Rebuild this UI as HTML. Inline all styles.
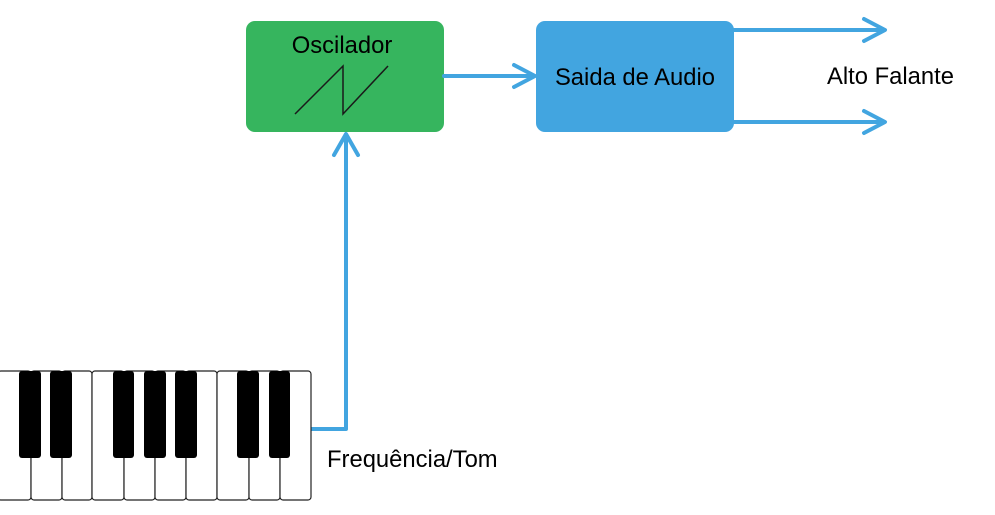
<!DOCTYPE html>
<html><head><meta charset="utf-8"><style>
html,body{margin:0;padding:0;background:#fff;width:995px;height:515px;overflow:hidden}
text{font-family:"Liberation Sans",Arial,sans-serif;font-size:23.8px;fill:#000}
</style></head><body>
<svg width="995" height="515" viewBox="0 0 995 515" xmlns="http://www.w3.org/2000/svg">
<rect x="246" y="21" width="198" height="111" rx="9" fill="#36b55e"/>
<rect x="536" y="21" width="198" height="111" rx="9" fill="#42a5e0"/>
<text x="342" y="53" text-anchor="middle">Oscilador</text>
<polyline points="295,114 343,66 343,114 388,66" fill="none" stroke="#1a1a1a" stroke-width="1.5"/>
<text x="635" y="85" text-anchor="middle">Saida de Audio</text>
<text x="827" y="84">Alto Falante</text>
<text x="327" y="467">Frequência/Tom</text>
<g fill="none" stroke="#42a5e0" stroke-width="4" stroke-linecap="round" stroke-linejoin="round">
<polyline points="311,429 346,429 346,136"/>
<polyline points="334,155 346,134 358,155"/>
<line x1="444" y1="76" x2="534" y2="76"/>
<polyline points="514,65 535,76 514,87"/>
<line x1="734" y1="30" x2="884" y2="30"/>
<polyline points="864,19 885,30 864,41"/>
<line x1="734" y1="122" x2="884" y2="122"/>
<polyline points="864,111 885,122 864,133"/>
</g>
<g stroke="#222" stroke-width="1.2" fill="#fff">
<rect x="-2" y="371" width="33" height="129" rx="3"/>
<rect x="31" y="371" width="31" height="129" rx="3"/>
<rect x="62" y="371" width="30" height="129" rx="3"/>
<rect x="92" y="371" width="32" height="129" rx="3"/>
<rect x="124" y="371" width="31" height="129" rx="3"/>
<rect x="155" y="371" width="31" height="129" rx="3"/>
<rect x="186" y="371" width="31" height="129" rx="3"/>
<rect x="217" y="371" width="32" height="129" rx="3"/>
<rect x="249" y="371" width="31" height="129" rx="3"/>
<rect x="280" y="371" width="31" height="129" rx="3"/>
</g>
<g fill="#000">
<rect x="19" y="371" width="22" height="87" rx="3"/>
<rect x="50" y="371" width="22" height="87" rx="3"/>
<rect x="113" y="371" width="21" height="87" rx="3"/>
<rect x="144" y="371" width="22" height="87" rx="3"/>
<rect x="175" y="371" width="22" height="87" rx="3"/>
<rect x="237" y="371" width="22" height="87" rx="3"/>
<rect x="269" y="371" width="21" height="87" rx="3"/>
</g>
</svg>
</body></html>
